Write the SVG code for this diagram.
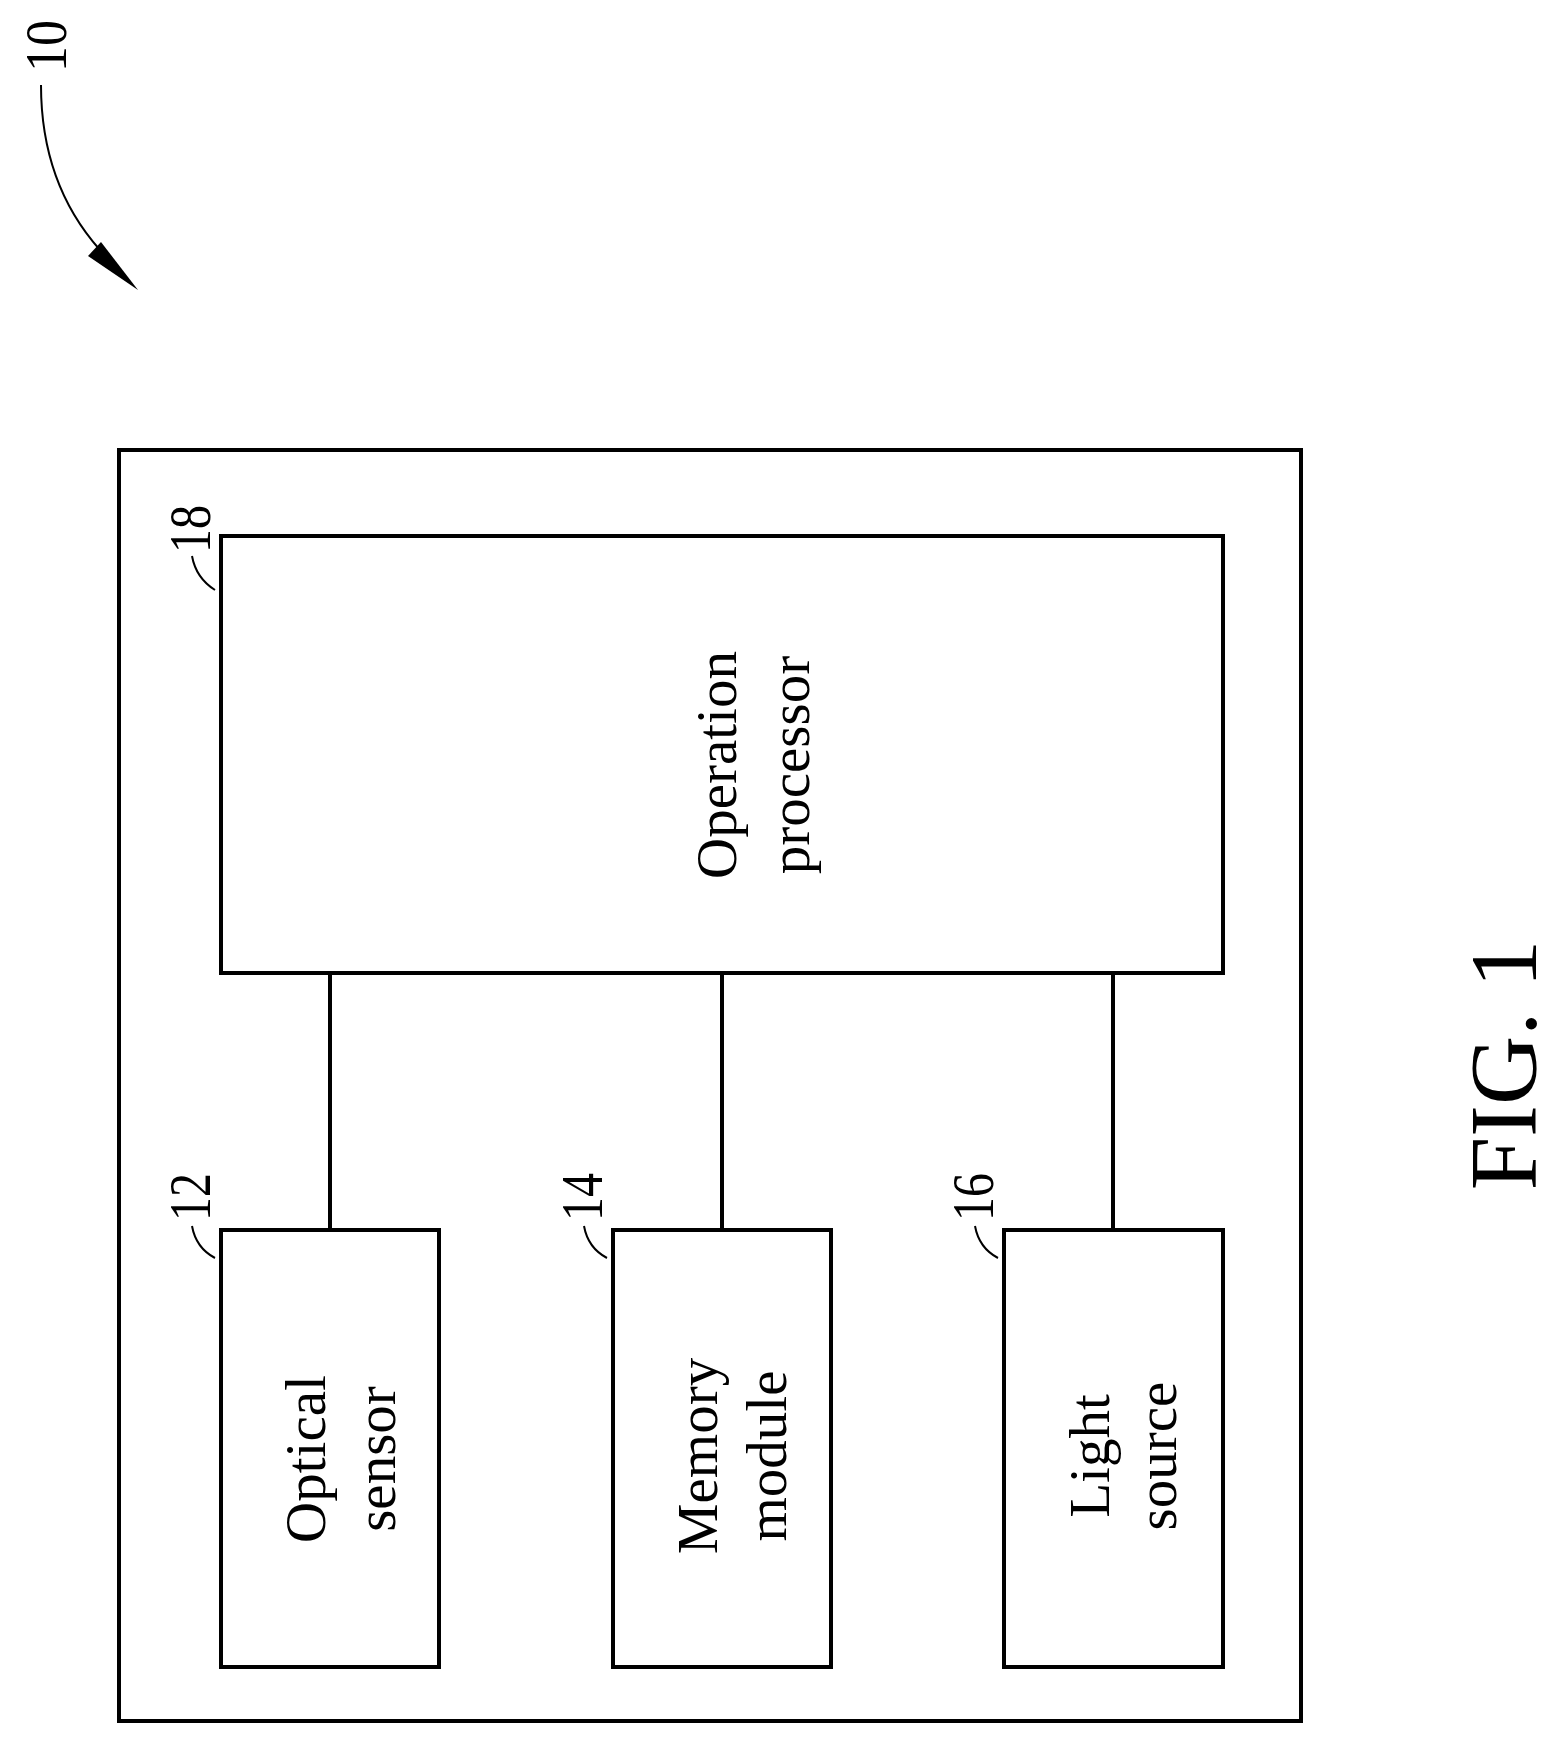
<svg xmlns="http://www.w3.org/2000/svg" width="1561" height="1744" viewBox="0 0 1561 1744">
<style>
.b{fill:none;stroke:#000;stroke-width:4}
.t{font-family:"Liberation Serif",serif;font-size:57px;text-anchor:middle;fill:#000}
.n{font-family:"Liberation Serif",serif;font-size:60px;text-anchor:middle;fill:#000}
.l{fill:none;stroke:#000;stroke-width:2}
</style>
<rect width="1561" height="1744" fill="#fff"/>
<g id="ref10">
<text class="n" x="66" y="46" transform="rotate(-90 66 46)" textLength="52" lengthAdjust="spacingAndGlyphs">10</text>
<path class="l" d="M41,85 C41,150 60,205 100,250"/>
<polygon points="138,290 88,256 101,242"/>
</g>
<g id="outer"><rect class="b" x="119" y="450" width="1182" height="1271"/></g>
<g id="n18">
<rect class="b" x="221" y="536" width="1002" height="437"/>
<text class="t" x="736" y="765" transform="rotate(-90 736 765)">Operation</text>
<text class="t" x="809" y="765" transform="rotate(-90 809 765)">processor</text>
<text class="n" x="210" y="529" transform="rotate(-90 210 529)" textLength="48" lengthAdjust="spacingAndGlyphs">18</text>
<path class="l" d="M192,556 Q196,578 215,590"/>
</g>
<g id="n12">
<rect class="b" x="221" y="1230" width="218" height="437"/>
<text class="t" x="325" y="1459" transform="rotate(-90 325 1459)">Optical</text>
<text class="t" x="395" y="1459" transform="rotate(-90 395 1459)">sensor</text>
<text class="n" x="210" y="1197" transform="rotate(-90 210 1197)" textLength="48" lengthAdjust="spacingAndGlyphs">12</text>
<path class="l" d="M192,1226 Q196,1248 215,1258"/>
</g>
<g id="n14">
<rect class="b" x="613" y="1230" width="218" height="437"/>
<text class="t" x="717" y="1456" transform="rotate(-90 717 1456)">Memory</text>
<text class="t" x="786" y="1456" transform="rotate(-90 786 1456)">module</text>
<text class="n" x="602" y="1197" transform="rotate(-90 602 1197)" textLength="48" lengthAdjust="spacingAndGlyphs">14</text>
<path class="l" d="M584,1226 Q588,1248 607,1258"/>
</g>
<g id="n16">
<rect class="b" x="1004" y="1230" width="219" height="437"/>
<text class="t" x="1109" y="1456" transform="rotate(-90 1109 1456)">Light</text>
<text class="t" x="1176" y="1456" transform="rotate(-90 1176 1456)">source</text>
<text class="n" x="993" y="1197" transform="rotate(-90 993 1197)" textLength="48" lengthAdjust="spacingAndGlyphs">16</text>
<path class="l" d="M975,1226 Q979,1248 998,1258"/>
</g>
<g id="connectors">
<line class="b" x1="330" y1="973" x2="330" y2="1230"/>
<line class="b" x1="722" y1="973" x2="722" y2="1230"/>
<line class="b" x1="1113" y1="973" x2="1113" y2="1230"/>
</g>
<text x="1536" y="1065" transform="rotate(-90 1536 1065)" style="font-family:'Liberation Serif',serif;font-size:96px;text-anchor:middle">FIG. 1</text>
</svg>
